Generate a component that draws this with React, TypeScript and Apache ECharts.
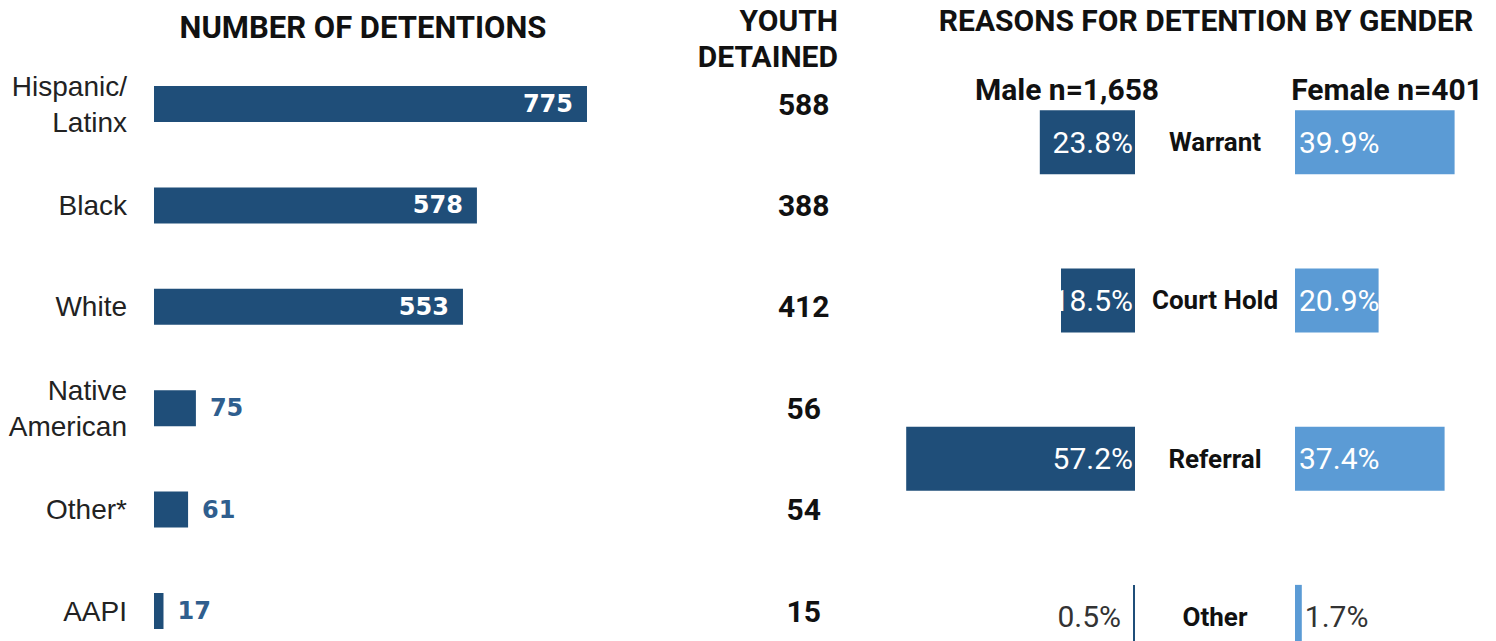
import React, { useEffect, useRef } from "react";
import * as echarts from "echarts";

// ---- data ----
const groups = ["Hispanic/\nLatinx", "Black", "White", "Native\nAmerican", "Other*", "AAPI"];
const detentions = [775, 578, 553, 75, 61, 17];
const youthDetained = [588, 388, 412, 56, 54, 15];
const reasons = ["Warrant", "Court Hold", "Referral", "Other"];
const malePct = [23.8, 18.5, 57.2, 0.5];
const femalePct = [39.9, 20.9, 37.4, 1.7];
const maleN = "1,658";
const femaleN = "401";
const titleLeft = "NUMBER OF DETENTIONS";
const titleMid = ["YOUTH", "DETAINED"];
const titleRight = "REASONS FOR DETENTION BY GENDER";

const DARK = "#1f4e79";
const LIGHT = "#5b9bd5";
const HEAD = "Roboto";

export default function App() {
  const ref = useRef<HTMLDivElement>(null);
  useEffect(() => {
    document.body.style.margin = "0";
    const chart = echarts.init(ref.current!, undefined, { renderer: "svg" });
    const headText = (text: string, x: number, y: number, align: string, size = 30) => ({
      type: "text",
      x,
      y,
      style: {
        text,
        fontFamily: HEAD,
        fontWeight: "bold",
        fontSize: size,
        fill: "#111",
        align,
        verticalAlign: "middle",
      },
    });
    const option: any = {
      animation: false,
      graphic: [
        headText(titleLeft, 363, 27, "center", 31),
        headText(titleMid[0], 838, 20, "right"),
        headText(titleMid[1], 838, 56, "right"),
        headText(titleRight, 1206, 20, "center"),
        headText("Male n=" + maleN, 1067, 89, "center", 30),
        headText("Female n=" + femaleN, 1387, 89, "center", 30),
      ],
      grid: [
        { left: 154, top: 53.3, width: 558.7, height: 608.4 },
        { left: 895, top: 63, width: 240, height: 633 },
        { left: 1295, top: 63, width: 200, height: 633 },
      ],
      xAxis: [
        { gridIndex: 0, type: "value", min: 0, max: 1000, show: false },
        { gridIndex: 1, type: "value", min: 0, max: 60, inverse: true, show: false },
        { gridIndex: 2, type: "value", min: 0, max: 50, show: false },
      ],
      yAxis: [
        {
          gridIndex: 0,
          type: "category",
          data: groups,
          inverse: true,
          axisLine: { show: false },
          axisTick: { show: false },
          splitLine: { show: false },
          axisLabel: {
            margin: 27,
            fontSize: 28,
            fontFamily: "Liberation Sans",
            color: "#222",
            lineHeight: 36,
          },
        },
        {
          gridIndex: 0,
          type: "category",
          position: "right",
          data: youthDetained.map(String),
          inverse: true,
          axisLine: { show: false },
          axisTick: { show: false },
          splitLine: { show: false },
          axisLabel: {
            margin: 91,
            align: "center",
            fontSize: 30,
            fontWeight: "bold",
            fontFamily: HEAD,
            color: "#111",
          },
        },
        {
          gridIndex: 1,
          type: "category",
          data: reasons,
          inverse: true,
          show: false,
        },
        {
          gridIndex: 2,
          type: "category",
          data: reasons,
          inverse: true,
          axisLine: { show: false },
          axisTick: { show: false },
          splitLine: { show: false },
          axisLabel: {
            margin: 80,
            align: "center",
            fontSize: 26,
            fontWeight: "bold",
            fontFamily: HEAD,
            color: "#111",
          },
        },
      ],
      series: [
        {
          type: "bar",
          xAxisIndex: 0,
          yAxisIndex: 0,
          barWidth: 36,
          itemStyle: { color: DARK },
          label: {
            show: true,
            fontFamily: "DejaVu Sans",
            fontWeight: "bold",
            fontSize: 24,
            distance: 14,
          },
          data: detentions.map((v) => ({
            value: v,
            label:
              v > 200
                ? { position: "insideRight", color: "#fff" }
                : { position: "right", color: "#2f5e8e" },
          })),
        },
        {
          type: "bar",
          xAxisIndex: 1,
          yAxisIndex: 2,
          barWidth: 64,
          itemStyle: { color: DARK },
          label: {
            show: true,
            fontFamily: HEAD,
            fontSize: 30,
            formatter: (p: any) => p.value.toFixed(1) + "%",
          },
          data: malePct.map((v) => ({
            value: v,
            label:
              v > 5
                ? { position: "insideRight", color: "#fff", distance: 2 }
                : { position: "left", color: "#333", distance: 12 },
          })),
        },
        {
          type: "bar",
          xAxisIndex: 2,
          yAxisIndex: 3,
          barWidth: 64,
          itemStyle: { color: LIGHT },
          label: {
            show: true,
            fontFamily: HEAD,
            fontSize: 30,
            formatter: (p: any) => p.value.toFixed(1) + "%",
          },
          data: femalePct.map((v) => ({
            value: v,
            label:
              v > 5
                ? { position: "insideLeft", color: "#fff", distance: 4 }
                : { position: "right", color: "#333", distance: 3 },
          })),
        },
      ],
    };
    chart.setOption(option);
    return () => chart.dispose();
  }, []);
  return (
    <div
      style={{
        position: "absolute",
        left: 0,
        top: 0,
        width: 1496,
        height: 641,
        overflow: "hidden",
      }}
    >
      <div ref={ref} style={{ width: 1496, height: 720 }} />
    </div>
  );
}
